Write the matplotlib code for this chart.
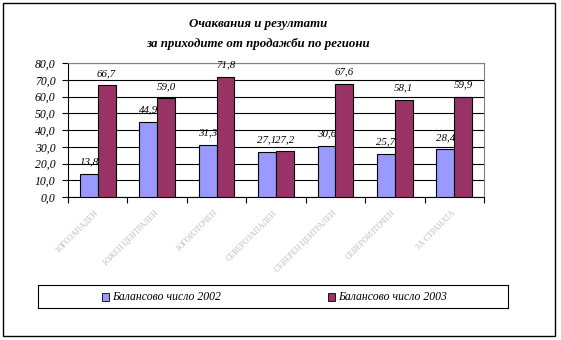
import numpy as np
import matplotlib.pyplot as plt
from matplotlib.patches import Rectangle

categories = ["ЮГОЗАПАДЕН", "ЮЖЕН ЦЕНТРАЛЕН", "ЮГОИЗТОЧЕН", "СЕВЕРОЗАПАДЕН",
              "СЕВЕРЕН ЦЕНТРАЛЕН", "СЕВЕРОИЗТОЧЕН", "ЗА СТРАНАТА"]
values_2002 = [13.8, 44.9, 31.3, 27.1, 30.6, 25.7, 28.4]
values_2003 = [66.7, 59.0, 71.8, 27.2, 67.6, 58.1, 59.9]
series_names = ["Балансово число 2002", "Балансово число 2003"]
title = "Очаквания и резултати\nза приходите от продажби по региони"

plt.rcParams['font.family'] = ['Liberation Serif', 'DejaVu Serif']

W, H = 561, 340
fig = plt.figure(figsize=(W / 100, H / 100), dpi=100)

# outer chart border
fig.patches.append(Rectangle((3 / W, 1 - 336 / H), 552 / W, 333 / H, transform=fig.transFigure,
                             fill=False, edgecolor='black', linewidth=1))

# plot area: x 68..484, y 63..197 (pixels)
ax = fig.add_axes([68 / W, 1 - 197 / H, (484 - 68) / W, (197 - 63) / H])

x = np.arange(len(categories))
w = 0.3
b1 = ax.bar(x - w / 2, values_2002, w, color='#9999FF', edgecolor='black', linewidth=0.8,
            label=series_names[0], zorder=3)
b2 = ax.bar(x + w / 2, values_2003, w, color='#993366', edgecolor='black', linewidth=0.8,
            label=series_names[1], zorder=3)

for bars, vals in ((b1, values_2002), (b2, values_2003)):
    for r, v in zip(bars, vals):
        ax.text(r.get_x() + r.get_width() / 2, v + 4.3, f"{v:.1f}".replace('.', ','),
                ha='center', va='bottom', fontsize=7.8, style='italic', zorder=4)

ax.set_xlim(-0.5, len(categories) - 0.5)
ax.set_ylim(0, 80)
ax.set_yticks(np.arange(0, 81, 10))
ax.set_yticklabels([f"{t:.1f}".replace('.', ',') for t in np.arange(0, 81, 10)],
                   fontsize=8.5, style='italic')
ax.yaxis.grid(True, color='black', linewidth=0.8, zorder=0)
ax.set_axisbelow(True)

ax.set_xticks(np.arange(len(categories) + 1) - 0.5, minor=False)
ax.set_xticklabels([])
ax.tick_params(axis='x', direction='out', length=4)
ax.tick_params(axis='y', direction='out', length=4, pad=5)
for i, c in enumerate(categories):
    ax.text(i - 0.05, -7, c, rotation=45, ha='right', va='top', fontsize=5.8, color='#bdbdbd',
            rotation_mode='anchor', transform=ax.transData, clip_on=False)

for s in ('top', 'right'):
    ax.spines[s].set_color('#808080')
ax.spines['left'].set_color('black')
ax.spines['bottom'].set_color('black')

fig.text(258 / W, 1 - 34 / H, title, ha='center', va='center', fontsize=9.3,
         fontweight='bold', style='italic', linespacing=1.85)

# legend box
lax = fig.add_axes([38 / W, 1 - 308 / H, (508 - 38) / W, (308 - 285) / H])
lax.set_xlim(0, 1)
lax.set_ylim(0, 1)
lax.set_xticks([])
lax.set_yticks([])
for s in lax.spines.values():
    s.set_linewidth(0.8)
for px, col, name in ((102, '#9999FF', series_names[0]), (328, '#993366', series_names[1])):
    lax.add_patch(Rectangle(((px - 38) / 470, 0.32), 7 / 470, 0.32, facecolor=col,
                            edgecolor='black', linewidth=0.6))
    lax.text((px - 38 + 10) / 470, 0.48, name, va='center', ha='left', fontsize=8.5, style='italic')

fig.savefig('out.png', dpi=100)
